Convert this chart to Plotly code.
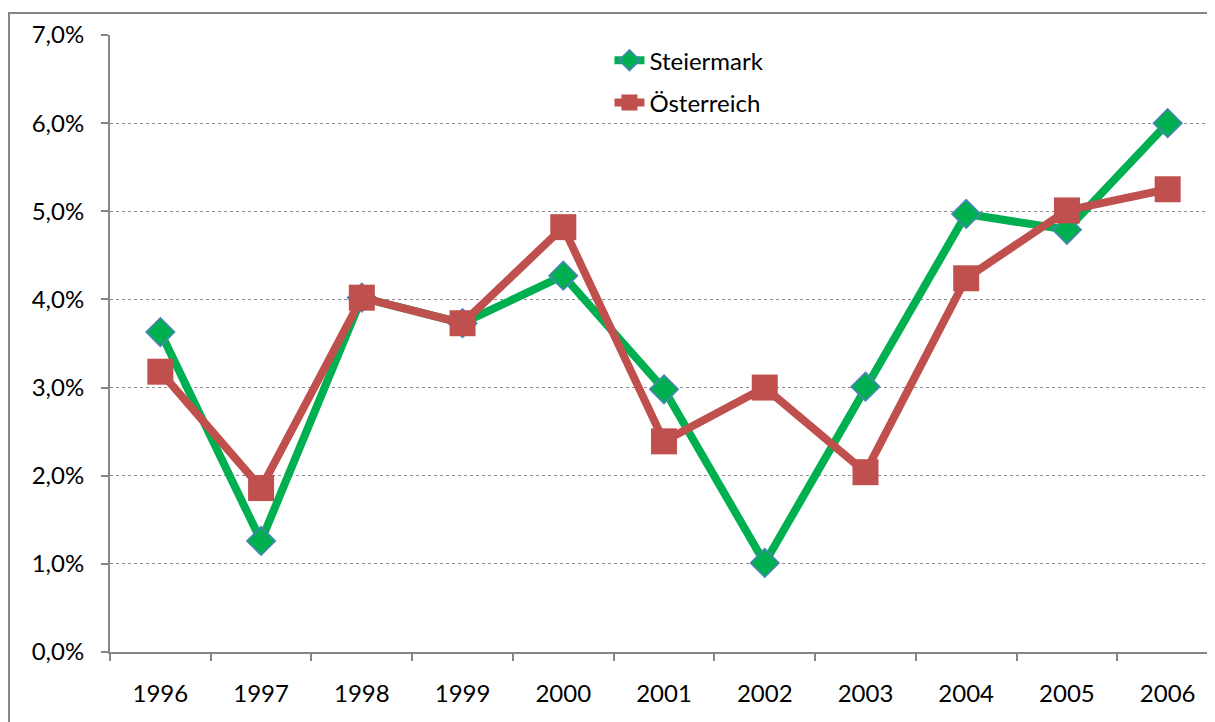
import plotly.graph_objects as go

# Daten (Wachstum in %)
years = ["1996", "1997", "1998", "1999", "2000", "2001", "2002", "2003", "2004", "2005", "2006"]
steiermark = [3.63, 1.26, 4.02, 3.73, 4.27, 2.98, 1.01, 3.01, 4.97, 4.79, 6.00]
oesterreich = [3.18, 1.86, 4.02, 3.73, 4.82, 2.39, 3.00, 2.04, 4.24, 5.01, 5.25]

GREEN = "#00B050"
BLUE_EDGE = "#4F81BD"
RED = "#C0504D"
AXIS_GRAY = "#868686"
FONT = dict(family="Lato, Open Sans, sans-serif", size=24, color="black")

fig = go.Figure()
fig.add_trace(go.Scatter(
    x=years, y=[v / 100 for v in steiermark], name="Steiermark",
    mode="lines+markers", legendgroup="st",
    line=dict(color=GREEN, width=8),
    marker=dict(symbol="diamond", size=22, color=GREEN,
                line=dict(color=BLUE_EDGE, width=1.5)),
))
fig.add_trace(go.Scatter(
    x=years, y=[v / 100 for v in oesterreich], name="Österreich",
    mode="lines+markers", legendgroup="oe",
    line=dict(color=RED, width=8),
    marker=dict(symbol="square", size=26, color=RED,
                line=dict(color=RED, width=0)),
))

# Rahmen um den Diagrammbereich
fig.add_shape(type="rect", xref="paper", yref="paper",
              x0=-0.0914, x1=1.02, y0=-0.14, y1=1.0357,
              line=dict(color=AXIS_GRAY, width=2), layer="above")

fig.update_layout(
    width=1207, height=714,
    plot_bgcolor="white", paper_bgcolor="white",
    separators=", ",
    font=FONT,
    margin=dict(l=102, r=0, t=27, b=70),
    showlegend=True,
    legend=dict(x=0.452, y=0.995, xanchor="left", yanchor="top",
                bgcolor="rgba(0,0,0,0)", font=dict(size=24),
                tracegroupgap=8),
    xaxis=dict(type="category", range=[-0.5, 10.47], tickson="boundaries",
               ticks="outside", ticklen=7, tickcolor=AXIS_GRAY, tickwidth=2,
               showline=True, linecolor=AXIS_GRAY, linewidth=2,
               showgrid=False, zeroline=False, ticklabelstandoff=19),
    yaxis=dict(range=[0, 0.07], dtick=0.01, tickformat=".1%",
               ticks="outside", ticklen=7, tickcolor=AXIS_GRAY, tickwidth=2,
               showline=True, linecolor=AXIS_GRAY, linewidth=2,
               showgrid=True, gridcolor="#8C8C8C", griddash="dot", gridwidth=1,
               zeroline=False, ticklabelstandoff=12),
)

fig.write_html("out.html")
